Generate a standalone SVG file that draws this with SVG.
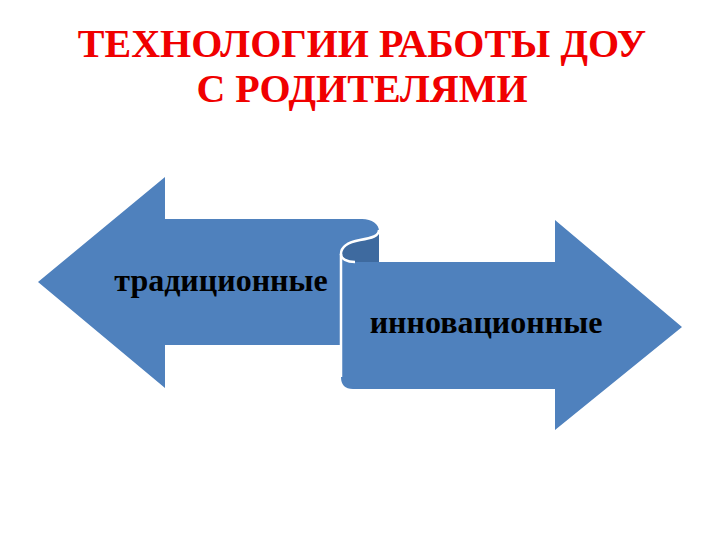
<svg xmlns="http://www.w3.org/2000/svg" width="720" height="540" viewBox="0 0 720 540">
<style>
.title{font-family:"Liberation Serif","Times New Roman",serif;font-weight:bold;font-size:40px;fill:#F00000;text-anchor:middle}
.lbl{font-family:"Liberation Serif","Times New Roman",serif;font-weight:bold;font-size:32px;fill:#000;text-anchor:middle}
.arrow{fill:#4F81BD}
.edge{fill:none;stroke:#FFFFFF;stroke-width:2.5}
</style>
<rect width="720" height="540" fill="#FFFFFF"/>
<g id="title">
<text class="title" x="362" y="57">ТЕХНОЛОГИИ РАБОТЫ ДОУ</text>
<text class="title" x="362" y="102">С РОДИТЕЛЯМИ</text>
</g>
<g id="left-arrow">
<path class="arrow" d="M38,282 L165,177 L165,219 L362,219 C372,219 379,224 379,231 L379,345 L165,345 L165,388 Z"/>
<text class="lbl" x="221" y="291">традиционные</text>
</g>
<g id="right-arrow">
<path d="M341,254 C341,246 349,242 360,240 C372,238 379,236 379,230 L379,262 L355,262 C347,262 341,259 341,254 Z" fill="#3E6A9F"/>
<path class="arrow" d="M341,254 C341,259 347,262 355,262 L555,262 L555,220 L682,327 L555,430 L555,389 L353,389 Q341,389 341,377 Z"/>
<path class="edge" d="M341,377 L341,254 C341,246 349,242 360,240 C372,238 379,236 379,230"/>
<path class="edge" d="M341,254 C341,259 347,262 355,262" stroke-width="1.5"/>
<text class="lbl" x="486" y="333">инновационные</text>
</g>
</svg>
